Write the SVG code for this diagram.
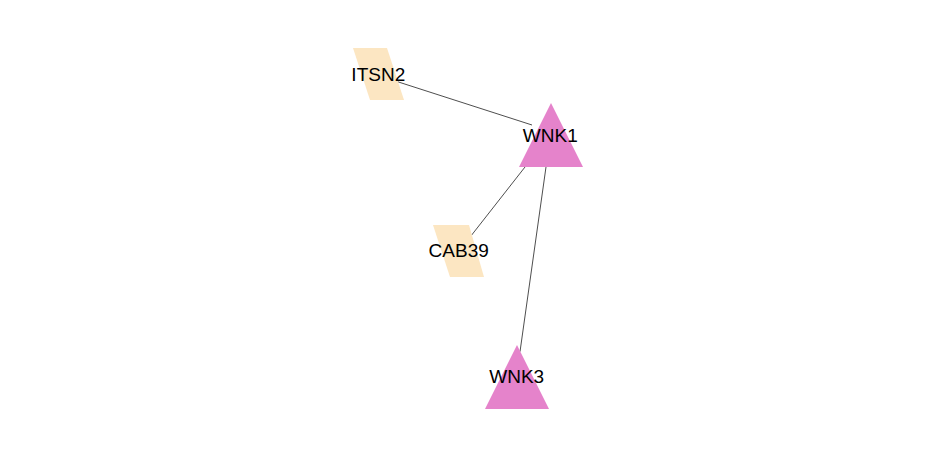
<svg xmlns="http://www.w3.org/2000/svg" width="936" height="458" viewBox="0 0 936 458">
<style>
.edge{stroke:#3a3a3a;stroke-width:0.9;fill:none}
.para{fill:#fce6c2}
.tri{fill:#e583cb}
.lbl{font-family:"Liberation Sans",Arial,sans-serif;font-size:19px;fill:#000;text-anchor:middle}
</style>
<rect width="936" height="458" fill="#ffffff"/>
<g id="edges">
<line class="edge" x1="397.5" y1="81.7" x2="532" y2="125"/>
<line class="edge" x1="525" y1="167" x2="471.7" y2="235"/>
<line class="edge" x1="546" y1="167" x2="520" y2="351.7"/>
</g>
<g id="node-ITSN2">
<polygon class="para" points="353,48 387,48 404,100 370,100"/>
<text class="lbl" x="378.3" y="81">ITSN2</text>
</g>
<g id="node-WNK1">
<polygon class="tri" points="551,103 583,167 519,167"/>
<text class="lbl" x="550.3" y="141.5">WNK1</text>
</g>
<g id="node-CAB39">
<polygon class="para" points="433,225 469,225 484,277 450,277"/>
<text class="lbl" x="458.7" y="256.5">CAB39</text>
</g>
<g id="node-WNK3">
<polygon class="tri" points="517,345 549,409 485,409"/>
<text class="lbl" x="516.7" y="382.5">WNK3</text>
</g>
</svg>
